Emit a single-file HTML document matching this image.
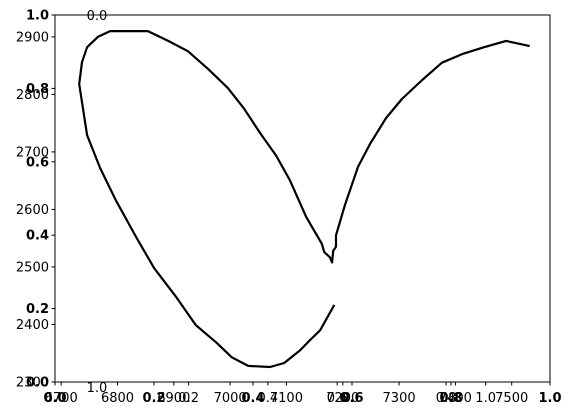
<!DOCTYPE html>
<html><head><meta charset="utf-8"><style>
html,body{margin:0;padding:0;background:#fff}
svg{display:block;font-family:"DejaVu Sans","Liberation Sans",sans-serif}
</style></head><body>
<svg id="chart" width="571" height="418" xmlns="http://www.w3.org/2000/svg">
<rect x="0" y="0" width="571" height="418" fill="#fff"/>
<g id="axes"></g>
<path id="curve" fill="none" stroke="#000" stroke-width="2.2" stroke-linejoin="round"/>
</svg>
<script>
const xValues=[7185,7160,7142,7124,7096,7071,7032,7003,6975,6939,6904,6865,6833,6797,6769,6746,6732,6737,6746,6765,6787,6854,6890,6925,6961,6996,7025,7053,7082,7106,7135,7163,7167,7177,7181,7183,7188,7188,7204,7227,7249,7277,7305,7341,7376,7412,7451,7490,7532];
const yValues=[2434,2390,2373,2355,2333,2326,2328,2343,2369,2399,2448,2498,2552,2616,2672,2729,2818,2856,2882,2900,2910,2910,2893,2875,2844,2811,2775,2733,2693,2651,2587,2540,2526,2517,2508,2528,2535,2555,2608,2674,2715,2759,2792,2825,2855,2870,2882,2893,2884];
const xTicks=[6700,6800,6900,7000,7100,7200,7300,7400,7500];
const yTicks=[2300,2400,2500,2600,2700,2800,2900];
const fracTicks=[0.0,0.2,0.4,0.6,0.8,1.0];
const L=55,R=550,T=15,B=382;
const X0=6689,X1=7568,Y0=2300,Y1=2938;
const FS=13;
const sx=v=>L+(v-X0)/(X1-X0)*(R-L);
const sy=v=>B-(v-Y0)/(Y1-Y0)*(B-T);
const fx=f=>L+f*(R-L), fy=f=>B-f*(B-T);
const NS="http://www.w3.org/2000/svg";
const ax=document.getElementById('axes');
function mk(tag,attrs,txt){const e=document.createElementNS(NS,tag);for(const k in attrs)e.setAttribute(k,attrs[k]);if(txt!==undefined)e.textContent=txt;ax.appendChild(e);return e;}
let e=mk('rect',{x:L,y:T,width:R-L,height:B-T,fill:'none',stroke:'#000','stroke-width':1});


xTicks.forEach(v=>{const x=sx(v);
 let t=mk('line',{x1:x,x2:x,y1:B,y2:B+3.5,stroke:'#000'});
 
 
 let l=mk('text',{x:x,y:B+20,'font-size':FS,'text-anchor':'middle'},String(v));
 
 });
yTicks.forEach(v=>{const y=sy(v);
 let t=mk('line',{x1:L-3.5,x2:L,y1:y,y2:y,stroke:'#000'});
 
 
 let l=mk('text',{x:L-6,y:y+4.5,'font-size':FS,'text-anchor':'end'},String(v));
 
 });
fracTicks.forEach(f=>{
 let x=fx(f),y=fy(f);
 let t=mk('line',{x1:x,x2:x,y1:B,y2:B+3.5,stroke:'#000'});
 
 
 let l=mk('text',{x:x,y:B+20,'font-size':FS,'font-weight':'bold','text-anchor':'middle'},f.toFixed(1));
 
 
 let t2=mk('line',{x1:L-3.5,x2:L,y1:y,y2:y,stroke:'#000'});
 
 
 let l2=mk('text',{x:L-6,y:y+4.5,'font-size':FS,'font-weight':'bold','text-anchor':'end'},f.toFixed(1));
 
 });
const extraLabels=['0.2','0.4','0.6','0.8','1.0'];
const extraPos=[0.27,0.43,0.57,0.79,0.87];
extraLabels.forEach((s,i)=>{const x=fx(extraPos[i]);
 let t=mk('line',{x1:x,x2:x,y1:B,y2:B+3.5,stroke:'#000'});
 
 
 let l=mk('text',{x:x,y:B+20,'font-size':FS,'text-anchor':'middle'},s);
 
 });
let a=mk('text',{x:97,y:20,'font-size':FS,'text-anchor':'middle',fill:'#000'},'0.0');


let b=mk('text',{x:97,y:392,'font-size':FS,'text-anchor':'middle',fill:'#000'},'1.0');


let d='';xValues.forEach((v,i)=>{d+=(i?'L':'M')+sx(v).toFixed(1)+','+sy(yValues[i]).toFixed(1);});
document.getElementById('curve').setAttribute('d',d);
</script>
</body></html>
